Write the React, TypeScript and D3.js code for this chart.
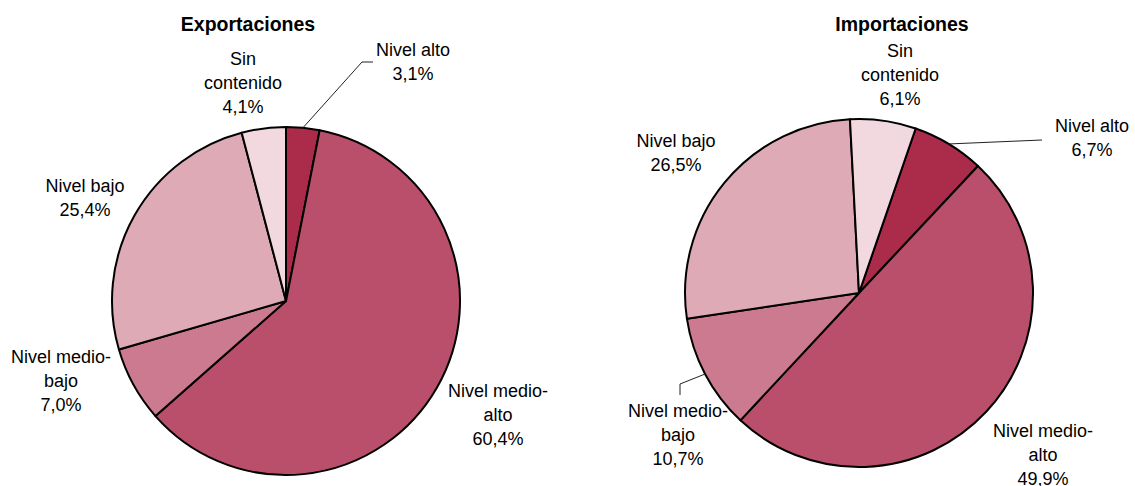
import React from "react";
import * as d3 from "d3";

const categories = ["Nivel alto", "Nivel medio-alto", "Nivel medio-bajo", "Nivel bajo", "Sin contenido"];
const exportValues = [3.1, 60.4, 7.0, 25.4, 4.1];
const importValues = [6.7, 49.9, 10.7, 26.5, 6.1];
const exportLabels = [["Nivel alto", "3,1%"], ["Nivel medio-", "alto", "60,4%"], ["Nivel medio-", "bajo", "7,0%"], ["Nivel bajo", "25,4%"], ["Sin", "contenido", "4,1%"]];
const importLabels = [["Nivel alto", "6,7%"], ["Nivel medio-", "alto", "49,9%"], ["Nivel medio-", "bajo", "10,7%"], ["Nivel bajo", "26,5%"], ["Sin", "contenido", "6,1%"]];
const titles = ["Exportaciones", "Importaciones"];

const colors = ["#AA2C4A", "#B94F6B", "#CB7A8F", "#DDAAB6", "#F2D9E0"];

// layout: label positions relative to pie center (x center of text, first baseline)
const exportLabelPos = [[127, -245], [212, 96], [-225, 62], [-201, -109], [-43, -236]];
const importLabelPos = [[233, -161], [184, 144], [-181, 124], [-183, -146], [41, -236]];
const exportLeader = [[null], [[76, -239], [87, -239]]];
const importLeader = [[[183, -153]], [[-179, 91], [-179, 102]]];

const R = 174;
const LINE = 24;

function Pie({ cx, cy, values, labels, labelPos, title, startDeg, leaders }: any) {
  const start = (startDeg * Math.PI) / 180;
  const pie = d3.pie<number>().sort(null).startAngle(start).endAngle(start + 2 * Math.PI);
  const arcs = pie(values);
  const arc = d3.arc<any>().innerRadius(0).outerRadius(R);
  const color = d3.scaleOrdinal<string, string>().domain(categories).range(colors);
  const leaderPath = (a: any, pts: number[][]) => {
    const mid = (a.startAngle + a.endAngle) / 2;
    const p0 = [Math.sin(mid) * R, -Math.cos(mid) * R];
    return d3.line()([p0 as [number, number], ...(pts as [number, number][])]) || "";
  };
  return (
    <g transform={`translate(${cx},${cy})`}>
      {arcs.map((a, i) => (
        <path key={i} d={arc(a) || ""} fill={color(categories[i])} stroke="#000" strokeWidth={2} strokeLinejoin="round" />
      ))}
      {leaders.map((l: any) =>
        l.pts ? <path key={l.i} d={leaderPath(arcs[l.i], l.pts)} fill="none" stroke="#222" strokeWidth={1} /> : null
      )}
      {labels.map((lines: string[], i: number) => (
        <text key={i} x={labelPos[i][0]} y={labelPos[i][1]} textAnchor="middle" fontSize={18} fill="#000">
          {lines.map((t, j) => (
            <tspan key={j} x={labelPos[i][0]} y={labelPos[i][1] + j * LINE}>{t}</tspan>
          ))}
        </text>
      ))}
      <text x={title.x} y={title.y} textAnchor="middle" fontSize={19.5} fontWeight="bold" fill="#000">{title.text}</text>
    </g>
  );
}

export default function App() {
  return (
    <svg width={1135} height={486} style={{ position: "absolute", left: 0, top: 0, fontFamily: "'Liberation Sans', Arial, sans-serif", background: "#fff" }}>
      <rect width={1135} height={486} fill="#fff" />
      <Pie cx={286} cy={301} values={exportValues} labels={exportLabels} labelPos={exportLabelPos}
        startDeg={0} title={{ x: -38, y: -270, text: titles[0] }}
        leaders={[{ i: 0, pts: exportLeader[1] }]} />
      <Pie cx={859} cy={293} values={importValues} labels={importLabels} labelPos={importLabelPos}
        startDeg={19} title={{ x: 43, y: -262, text: titles[1] }}
        leaders={[{ i: 0, pts: importLeader[0] }, { i: 2, pts: importLeader[1] }]} />
    </svg>
  );
}
